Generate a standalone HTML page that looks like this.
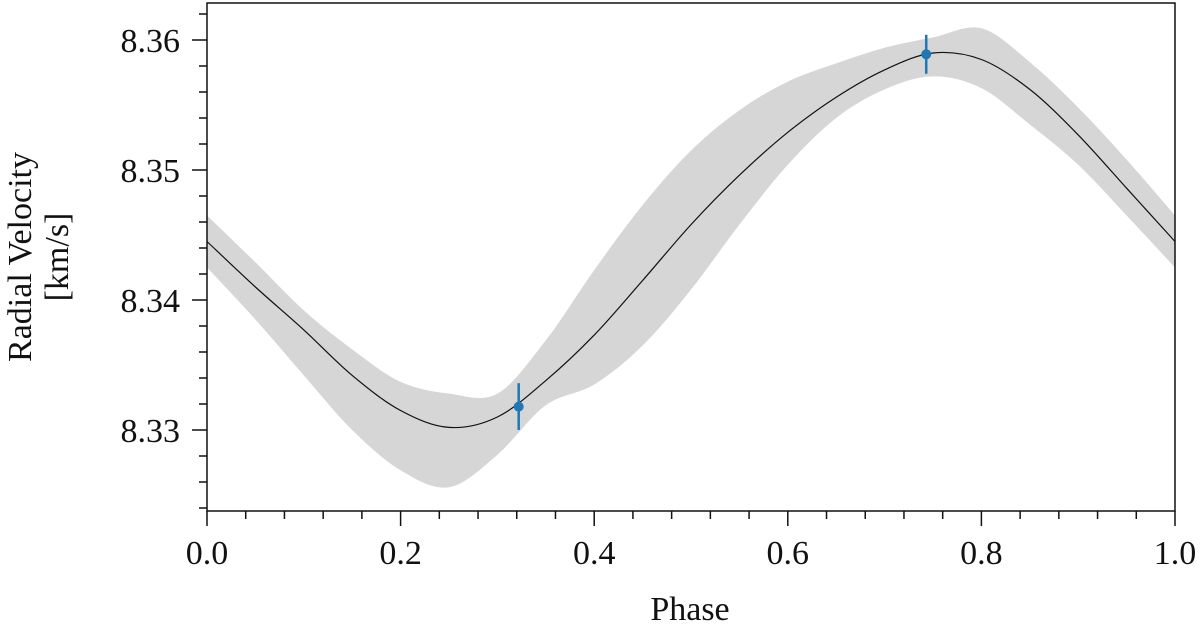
<!DOCTYPE html>
<html><head><meta charset="utf-8"><style>body{margin:0;background:#fff}svg text{font-family:"Liberation Serif",serif;fill:#111}</style></head>
<body>
<svg id="c" width="1200" height="629"></svg>
<script>
const phases=[0,0.05,0.1,0.15,0.2,0.25,0.3,0.35,0.4,0.45,0.5,0.55,0.6,0.65,0.7,0.75,0.8,0.85,0.9,0.95,1.0];
const meanRV=[8.3445,8.3410,8.3377,8.3342,8.3315,8.3302,8.3310,8.3338,8.3373,8.3415,8.3458,8.3496,8.3529,8.3556,8.3577,8.3590,8.3585,8.3562,8.3527,8.3486,8.3445];
const bandUpper=[8.3465,8.3429,8.3392,8.3362,8.3337,8.3328,8.3328,8.3369,8.3423,8.3473,8.3515,8.3546,8.3568,8.3582,8.3594,8.3602,8.3609,8.3583,8.3548,8.3508,8.3465];
const bandLower=[8.3425,8.3385,8.3342,8.3300,8.3269,8.3256,8.3281,8.3319,8.3335,8.3365,8.3408,8.3458,8.3504,8.3540,8.3562,8.3572,8.3563,8.3535,8.3504,8.3465,8.3425];
const obsPhase=[0.322,0.743];
const obsRV=[8.3318,8.3589];
const obsErr=[0.0018,0.0015];
const xTicks=[0,0.2,0.4,0.6,0.8,1.0];
const xTickLabels=["0.0","0.2","0.4","0.6","0.8","1.0"];
const yTicks=[8.33,8.34,8.35,8.36];
const yTickLabels=["8.33","8.34","8.35","8.36"];
const L=207,R=1175,T=3,B=511;
const X=v=>L+v*(R-L);
const Y=v=>40+(8.36-v)*13000;
const s=document.getElementById('c');const NS='http://www.w3.org/2000/svg';
function el(t,a,name){const e=document.createElementNS(NS,t);for(const k in a)e.setAttribute(k,a[k]);


s.appendChild(e);return e;}
function cr(pts){let d='M'+pts[0][0]+','+pts[0][1];for(let i=0;i<pts.length-1;i++){const p0=pts[Math.max(i-1,0)],p1=pts[i],p2=pts[i+1],p3=pts[Math.min(i+2,pts.length-1)];
d+=' C'+(p1[0]+(p2[0]-p0[0])/6)+','+(p1[1]+(p2[1]-p0[1])/6)+' '+(p2[0]-(p3[0]-p1[0])/6)+','+(p2[1]-(p3[1]-p1[1])/6)+' '+p2[0]+','+p2[1];}return d;}
const up=phases.map((p,i)=>[X(p),Y(bandUpper[i])]);
const lo=phases.map((p,i)=>[X(p),Y(bandLower[i])]).reverse();
el('path',{d:cr(up)+' L'+cr(lo).slice(1)+' Z',fill:'#d6d6d6'},'uncertainty-band');
el('path',{d:cr(phases.map((p,i)=>[X(p),Y(meanRV[i])])),fill:'none',stroke:'#111','stroke-width':1.2},'mean-rv-curve');
obsPhase.forEach((p,i)=>{
el('line',{x1:X(p),x2:X(p),y1:Y(obsRV[i]+obsErr[i]),y2:Y(obsRV[i]-obsErr[i]),stroke:'#1f77b4','stroke-width':2.5},'error-bar');
el('circle',{cx:X(p),cy:Y(obsRV[i]),r:5,fill:'#1f77b4'},'data-point');});
el('rect',{x:L,y:T,width:R-L,height:B-T,fill:'none',stroke:'#111','stroke-width':1.5},'plot-frame');
for(let k=0;k<=25;k++){const v=k*0.04,x=X(v),maj=k%5==0;
el('line',{x1:x,x2:x,y1:B,y2:B+(maj?15:8),stroke:'#111','stroke-width':1.5},'x-tick');}
xTicks.forEach((v,i)=>{const t=el('text',{x:X(v),y:564,'text-anchor':'middle','font-size':34},'x-tick-label');t.textContent=xTickLabels[i];});
for(let k=-3;k<=19;k++){const v=8.33+k*0.002,y=Y(v);if(y>B+1||y<T)continue;const maj=k%5==0;
el('line',{x1:L,x2:L-(maj?15:8),y1:y,y2:y,stroke:'#111','stroke-width':1.5},'y-tick');}
yTicks.forEach((v,i)=>{const t=el('text',{x:180,y:Y(v)+12,'text-anchor':'end','font-size':34},'y-tick-label');t.textContent=yTickLabels[i];});
let t=el('text',{x:690,y:620,'text-anchor':'middle','font-size':34},'x-axis-title');t.textContent='Phase';
t=el('text',{x:0,y:0,'text-anchor':'middle','font-size':34,transform:'translate(31,257) rotate(-90)'},'y-axis-title');t.textContent='Radial Velocity';
t=el('text',{x:0,y:0,'text-anchor':'middle','font-size':34,transform:'translate(68,257) rotate(-90)'},'y-axis-unit');t.textContent='[km/s]';
</script>
</body></html>
